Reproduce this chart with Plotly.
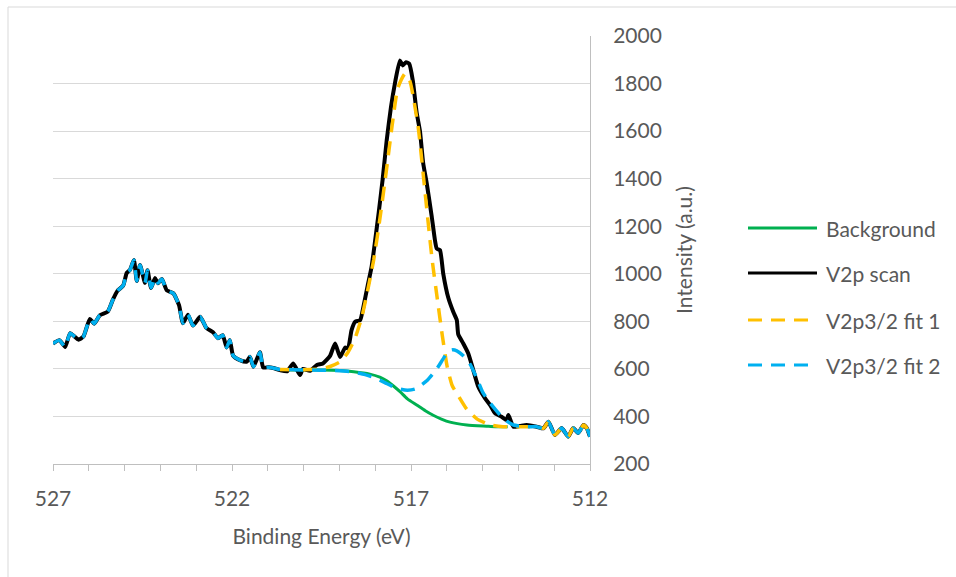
import plotly.graph_objects as go

# V2p region scan (binding energy in eV, intensity in a.u.)
energy = [
    527.00, 526.82, 526.66, 526.52, 526.29, 526.15, 525.97, 525.85, 525.69, 525.47,
    525.33, 525.20, 525.04, 524.94, 524.85, 524.74, 524.66, 524.57, 524.43, 524.36,
    524.26, 524.15, 524.07, 523.96, 523.82, 523.64, 523.48, 523.37, 523.23, 523.09,
    522.89, 522.71, 522.53, 522.39, 522.26, 522.15, 522.06, 521.97, 521.78, 521.59,
    521.50, 521.40, 521.22, 521.13, 520.98, 520.85, 520.66, 520.46, 520.29, 520.10,
    520.02, 519.82, 519.63, 519.46, 519.26, 519.12, 518.98, 518.84, 518.76, 518.66,
    518.56, 518.42, 518.33, 518.21, 518.10, 518.01, 517.90, 517.79, 517.68, 517.56,
    517.45, 517.31, 517.23, 517.14, 517.05, 516.95, 516.84, 516.75, 516.66, 516.56,
    516.42, 516.33, 516.28, 516.19, 516.10, 515.96, 515.82, 515.72, 515.68, 515.54,
    515.40, 515.26, 515.12, 514.93, 514.79, 514.65, 514.47, 514.33, 514.28, 514.14,
    513.96, 513.77, 513.49, 513.30, 513.16, 512.98, 512.79, 512.61, 512.47, 512.33,
    512.18, 512.09, 512.00,
]
scan = [
    707, 721, 692, 750, 723, 736, 810, 790, 826, 841,
    890, 928, 950, 1004, 1016, 1058, 970, 1037, 962, 1015,
    940, 982, 960, 978, 930, 918, 868, 792, 828, 782,
    819, 771, 754, 729, 742, 690, 721, 656, 637, 630,
    651, 609, 670, 606, 607, 604, 595, 590, 623, 574,
    600, 592, 616, 623, 655, 707, 650, 690, 686, 763,
    798, 805, 861, 950, 1030, 1130, 1260, 1400, 1560, 1700,
    1800, 1897, 1876, 1890, 1883, 1813, 1676, 1600, 1466, 1380,
    1240, 1140, 1106, 1099, 1001, 900, 840, 805, 745, 707,
    665, 595, 525, 476, 448, 413, 399, 385, 406, 357,
    360, 364, 357, 350, 378, 322, 351, 315, 351, 330,
    364, 351, 315,
]

# Shirley-type background
bg_energy = [520.80, 520.40, 520.00, 519.54, 519.00, 518.60, 518.15, 517.87, 517.68,
             517.49, 517.30, 517.10, 516.84, 516.60, 516.38, 516.15, 515.91, 515.44,
             514.89, 514.65, 514.30]
bg_counts = [597, 596, 595, 595, 593, 588, 578, 565, 550,
             528, 503, 474, 448, 424, 405, 389, 376, 364,
             359, 357, 357]

# Fitted component 1 (fit region only)
fit1_energy = [520.66, 520.10, 519.54, 519.26, 518.98, 518.76, 518.56, 518.37, 518.21,
               518.04, 517.87, 517.70, 517.53, 517.37, 517.17, 517.03, 516.80, 516.66,
               516.52, 516.41, 516.27, 516.13, 515.99, 515.85, 515.69, 515.44, 515.16,
               514.79, 514.43, 513.96, 513.68]
fit1_counts = [597, 596, 600, 610, 630, 670, 730, 820, 930,
               1060, 1230, 1420, 1620, 1780, 1841, 1810, 1617, 1420,
               1215, 1060, 900, 745, 610, 530, 490, 430, 390,
               364, 357, 357, 357]

# Fitted component 2 (fit region only)
fit2_energy = [520.66, 520.29, 519.82, 519.26, 518.70, 518.28, 518.01, 517.73, 517.45,
               517.17, 516.89, 516.56, 516.28, 516.00, 515.86, 515.72, 515.54, 515.35,
               515.16, 514.99, 514.79, 514.51, 514.32, 514.14, 513.76]
fit2_counts = [597, 596, 595, 594, 589, 576, 562, 542, 522,
               511, 515, 550, 600, 665, 680, 676, 655, 620,
               560, 500, 456, 406, 380, 364, 357]

# Outside the fit window the fit series carry the raw scan
FIT_LO, FIT_HI = 513.5, 520.8
low_x = [e for e in energy if e <= FIT_LO]
low_y = [c for e, c in zip(energy, scan) if e <= FIT_LO]
high_x = [e for e in energy if e >= FIT_HI]
high_y = [c for e, c in zip(energy, scan) if e >= FIT_HI]

fit1_x = fit1_energy + low_x
fit1_y = fit1_counts + low_y
fit2_x = high_x + fit2_energy + low_x
fit2_y = high_y + fit2_counts + low_y

GREEN, BLACK, GOLD, BLUE = "#00b050", "#000000", "#ffc000", "#00b0f0"
DASH = "14px,9px"
TEXT = "#595959"
FONT = "Lato"

fig = go.Figure()
fig.add_trace(go.Scatter(x=bg_energy, y=bg_counts, name="Background", mode="lines",
                         line=dict(color=GREEN, width=3, shape="spline", smoothing=0.6)))
fig.add_trace(go.Scatter(x=energy, y=scan, name="V2p scan", mode="lines",
                         line=dict(color=BLACK, width=4, shape="spline", smoothing=0.5)))
fig.add_trace(go.Scatter(x=fit1_x, y=fit1_y, name="V2p3/2 fit 1", mode="lines",
                         line=dict(color=GOLD, width=3.5, dash=DASH, shape="spline", smoothing=0.5)))
fig.add_trace(go.Scatter(x=fit2_x, y=fit2_y, name="V2p3/2 fit 2", mode="lines",
                         line=dict(color=BLUE, width=3.5, dash=DASH, shape="spline", smoothing=0.5)))

W, H = 956, 577
ML, MR, MT, MB = 53, 366, 36, 113
PW, PH = W - ML - MR, H - MT - MB


def paper_x(px):
    return (px - ML) / PW


def paper_y(py):
    return (H - MB - py) / PH


fig.update_layout(
    width=W, height=H,
    margin=dict(l=ML, r=MR, t=MT, b=MB),
    paper_bgcolor="white", plot_bgcolor="white",
    showlegend=False,
    font=dict(family=FONT, size=21, color=TEXT),
)

fig.update_xaxes(
    range=[527, 512], tickmode="linear", tick0=512, dtick=5,
    ticks="outside", ticklen=6, tickcolor="#bfbfbf", tickwidth=1,
    showline=True, linecolor="#bfbfbf", linewidth=1,
    showgrid=False, zeroline=False,
    minor=dict(dtick=1, tick0=512, ticks="outside", ticklen=6,
               tickcolor="#bfbfbf", showgrid=False),
    ticklabelstandoff=10,
    tickfont=dict(family=FONT, size=21, color=TEXT),
    title=dict(text="Binding Energy (eV)", standoff=20,
               font=dict(family=FONT, size=21, color=TEXT)),
)

fig.update_yaxes(
    side="right", range=[200, 2000], tickmode="linear", tick0=200, dtick=200,
    ticks="", showline=True, linecolor="#bfbfbf", linewidth=1,
    showgrid=True, gridcolor="#d9d9d9", gridwidth=1, zeroline=False,
    ticklabelstandoff=18,
    tickfont=dict(family=FONT, size=21, color=TEXT),
    title=dict(text="Intensity (a.u.)", standoff=16,
               font=dict(family=FONT, size=21, color=TEXT)),
)

# Outer chart frame
fig.add_shape(type="rect", xref="paper", yref="paper",
              x0=paper_x(8), x1=paper_x(W + 10), y0=paper_y(H + 10), y1=paper_y(7),
              line=dict(color="#d9d9d9", width=1), fillcolor="rgba(0,0,0,0)", layer="below")

# Legend
legend_items = [
    ("Background", GREEN, "solid"),
    ("V2p scan", BLACK, "solid"),
    ("V2p3/2 fit 1", GOLD, DASH),
    ("V2p3/2 fit 2", BLUE, DASH),
]
row_y = [228, 273, 320, 365]
for (label, color, dash), ry in zip(legend_items, row_y):
    fig.add_shape(type="line", xref="paper", yref="paper",
                  x0=paper_x(748), x1=paper_x(817), y0=paper_y(ry), y1=paper_y(ry),
                  line=dict(color=color, width=3, dash=dash))
    fig.add_annotation(xref="paper", yref="paper", x=paper_x(824), y=paper_y(ry),
                       text=label, showarrow=False, xanchor="left", yanchor="middle",
                       font=dict(family=FONT, size=21, color=TEXT))

fig.write_html("out.html")
